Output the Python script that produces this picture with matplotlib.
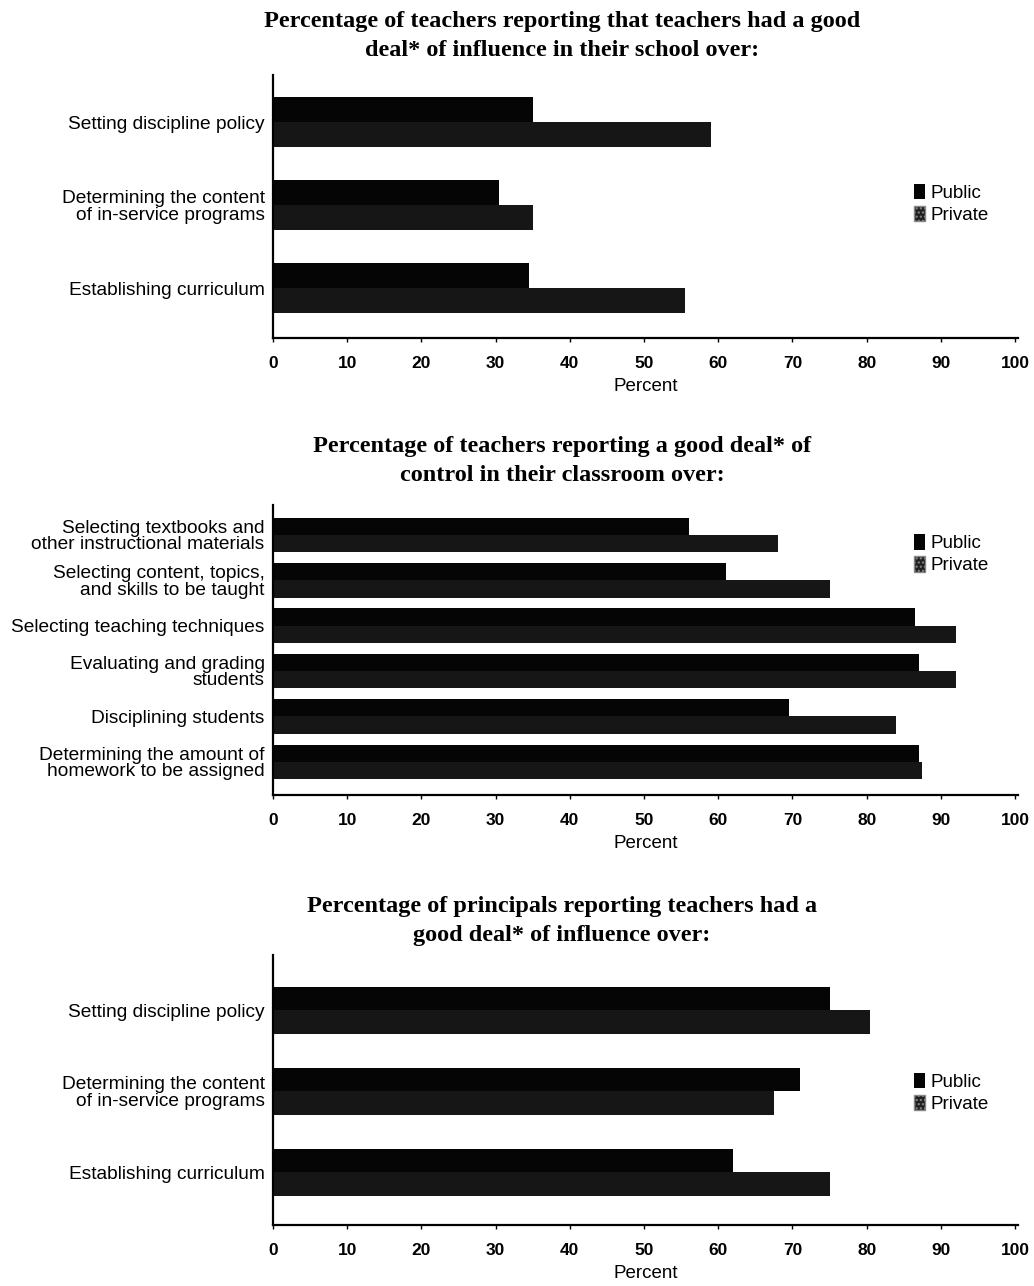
import matplotlib
matplotlib.use("Agg")
import matplotlib.pyplot as plt
import numpy as np
from matplotlib.patches import Patch

# ---- data ----
p1_categories = ["Setting discipline policy",
                 "Determining the content\nof in-service programs",
                 "Establishing curriculum"]
p1_public = [35, 30.5, 34.5]
p1_private = [59, 35, 55.5]

p2_categories = ["Selecting textbooks and\nother instructional materials",
                 "Selecting content, topics,\nand skills to be taught",
                 "Selecting teaching techniques",
                 "Evaluating and grading\nstudents",
                 "Disciplining students",
                 "Determining the amount of\nhomework to be assigned"]
p2_public = [56, 61, 86.5, 87, 69.5, 87]
p2_private = [68, 75, 92, 92, 84, 87.5]

p3_categories = ["Setting discipline policy",
                 "Determining the content\nof in-service programs",
                 "Establishing curriculum"]
p3_public = [75, 71, 62]
p3_private = [80.5, 67.5, 75]

titles = ["Percentage of teachers reporting that teachers had a good\ndeal* of influence in their school over:",
          "Percentage of teachers reporting a good deal* of\ncontrol in their classroom over:",
          "Percentage of principals reporting teachers had a\ngood deal* of influence over:"]
xticks = [0, 10, 20, 30, 40, 50, 60, 70, 80, 90, 100]
series_names = ["Public", "Private"]

W, H = 1034, 1286
fig = plt.figure(figsize=(W / 100, H / 100), dpi=100)

sans = ["Liberation Sans", "DejaVu Sans"]
serif = ["Liberation Serif", "DejaVu Serif"]

panels = [
    (p1_categories, p1_public, p1_private, 75, 338, 0.57, 0.60, 0.30, 0.51, titles[0], 36),
    (p2_categories, p2_public, p2_private, 505, 795, 0.66, 0.73, 0.38, 0.83, titles[1], 461),
    (p3_categories, p3_public, p3_private, 955, 1225, 0.68, 0.65, 0.29, 0.49, titles[2], 921),
]

left, right = 273, 1018
for cats, pub, priv, top, bot, tpad, bpad, bh, legy, title, ty in panels:
    ax = fig.add_axes([left / W, 1 - bot / H, (right - left) / W, (bot - top) / H])
    y = np.arange(len(cats))
    ax.barh(y - bh / 2, pub, height=bh, color="#050505", label=series_names[0])
    ax.barh(y + bh / 2, priv, height=bh, color="#161616", label=series_names[1])
    ax.set_ylim(len(cats) - 1 + bpad, -tpad)
    ax.set_xlim(0, 100.4)
    ax.set_yticks(y)
    ax.set_yticklabels(cats, fontsize=13.8, family=sans, linespacing=0.95)
    ax.tick_params(axis="y", length=0, pad=6)
    ax.set_xticks(xticks)
    ax.set_xticklabels([str(t) for t in xticks], fontsize=12.5, family=sans, fontweight="bold")
    ax.tick_params(axis="x", length=3, width=1, pad=10, direction="out")
    ax.set_xlabel("Percent", fontsize=13.5, family=sans, labelpad=5)
    for s in ["top", "right"]:
        ax.spines[s].set_visible(False)
    ax.spines["left"].set_linewidth(1.6)
    ax.spines["bottom"].set_linewidth(1.6)
    handles = [Patch(facecolor="#050505"), Patch(facecolor="#202020", edgecolor="#888888", hatch="....")]
    ax.legend(handles, series_names, loc="center left", bbox_to_anchor=(0.85, legy),
              frameon=False, prop={"family": sans, "size": 13.5},
              handlelength=0.6, handleheight=0.9, handletextpad=0.3, labelspacing=0.2,
              borderaxespad=0)
    fig.text(562 / W, 1 - ty / H, title, ha="center", va="center", fontsize=17.5,
             family=serif, fontweight="bold", linespacing=1.45)

fig.savefig("out.png", dpi=100)
